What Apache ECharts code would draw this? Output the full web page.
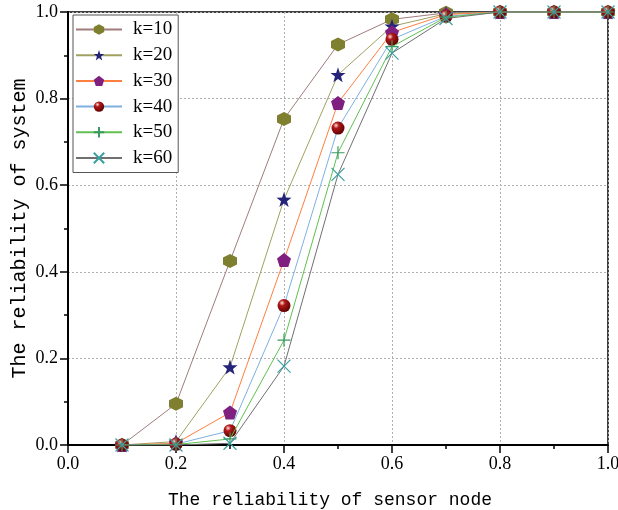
<!DOCTYPE html>
<html><head><meta charset="utf-8">
<script src="https://cdn.jsdelivr.net/npm/echarts@6/dist/echarts.min.js"></script>
<style>html,body{margin:0;padding:0;background:#fff}#c{width:618px;height:510px}</style>
</head><body><div id="c"></div>
<script>
const xs = [0.1,0.2,0.3,0.4,0.5,0.6,0.7,0.8,0.9,1.0];
const k10 = [0.0,0.095,0.425,0.753,0.925,0.983,0.998,1,1,1];
const k20 = [0.0,0.008,0.180,0.567,0.855,0.967,0.996,1,1,1];
const k30 = [0.0,0.004,0.075,0.427,0.790,0.953,0.994,1,1,1];
const k40 = [0.0,0.002,0.033,0.322,0.732,0.937,0.990,1,1,1];
const k50 = [0.0,0.001,0.014,0.242,0.675,0.920,0.988,1,1,1];
const k60 = [0.0,0.000,0.004,0.182,0.625,0.905,0.985,1,1,1];
const names = ['k=10','k=20','k=30','k=40','k=50','k=60'];
const xTicks = ['0.0','0.2','0.4','0.6','0.8','1.0'];

const hex = 'path://M0,-10L8.66,-5L8.66,5L0,10L-8.66,5L-8.66,-5Z';
const star = 'path://M0,-10L2.35,-3.24L9.51,-3.09L3.8,1.24L5.88,8.09L0,4L-5.88,8.09L-3.8,1.24L-9.51,-3.09L-2.35,-3.24Z';
const pent = 'path://M0,-10L9.51,-3.09L5.88,8.09L-5.88,8.09L-9.51,-3.09Z';
const plus = 'path://M0,-10L0,10M-10,0L10,0';
const cross = 'path://M-10,-10L10,10M10,-10L-10,10';

const cfg = [
  {d:k10, line:'#a07c7c', sym:hex, size:14, item:{color:'#7f7f30'}},
  {d:k20, line:'#a0a060', sym:star, size:15, item:{color:'#24247a'}},
  {d:k30, line:'#ff7f40', sym:pent, size:14, item:{color:'#7f2080'}},
  {d:k40, line:'#7fb0e0', sym:'circle', size:13, item:{color:{type:'radial',x:0.35,y:0.3,r:0.75,colorStops:[{offset:0,color:'#ffdede'},{offset:0.3,color:'#b01818'},{offset:1,color:'#5a0000'}]}}},
  {d:k50, line:'#60c050', sym:plus, size:13, item:{color:'rgba(0,0,0,0)', borderColor:'#3a9a60', borderWidth:1.2}},
  {d:k60, line:'#707070', sym:cross, size:13, item:{color:'rgba(0,0,0,0)', borderColor:'#3aa0a0', borderWidth:1.2}}
];

const series = cfg.map((c,i)=>({
  name:names[i], type:'line',
  data: xs.map((x,j)=>[x,c.d[j]]),
  symbol:c.sym, symbolSize:c.size, showAllSymbol:true,
  lineStyle:{color:c.line, width:1},
  itemStyle:c.item,
  emphasis:{disabled:true},
  z: 2+i
}));

const chart = echarts.init(document.getElementById('c'));
chart.setOption({
  animation:false,
  backgroundColor:'#fff',
  grid:{left:68, right:10, top:12, bottom:65, outerBoundsMode:'none', containLabel:false,
        show:true, borderColor:'#000', borderWidth:1.5},
  legend:{
    left:73, top:15, orient:'vertical', itemWidth:46, itemHeight:13, itemGap:6.7,
    padding:[5,6,5,2],
    borderColor:'#555', borderWidth:1, backgroundColor:'#fff',
    textStyle:{fontFamily:'Liberation Serif', fontSize:19, lineHeight:18, color:'#000', padding:[0,0,0,6]},
    data:names
  },
  xAxis:{
    type:'value', min:0, max:1, interval:0.2,
    axisLine:{onZero:false, lineStyle:{color:'#000', width:2}},
    axisTick:{length:8, lineStyle:{color:'#000', width:1.5}},
    minorTick:{show:true, splitNumber:2, length:4, lineStyle:{color:'#000', width:1.5}},
    splitLine:{show:true, lineStyle:{color:'#b0b0b0', type:[2,2], width:1}},
    axisLabel:{fontFamily:'Liberation Serif', fontSize:18, color:'#000', margin:10,
      formatter:(v)=>xTicks[Math.round(v/0.2)]},
    name:'The reliability of sensor node', nameLocation:'middle', nameGap:46,
    nameTextStyle:{fontFamily:'Liberation Mono', fontSize:18, color:'#000', padding:[0,16,0,0]}
  },
  yAxis:{
    type:'value', min:0, max:1, interval:0.2,
    axisLine:{onZero:false, lineStyle:{color:'#000', width:2}},
    axisTick:{length:8, lineStyle:{color:'#000', width:1.5}},
    minorTick:{show:true, splitNumber:2, length:4, lineStyle:{color:'#000', width:1.5}},
    splitLine:{show:true, lineStyle:{color:'#b0b0b0', type:[2,2], width:1}},
    axisLabel:{fontFamily:'Liberation Serif', fontSize:18, color:'#000', margin:10,
      formatter:(v)=>v.toFixed(1)},
    name:'The reliability of system', nameLocation:'middle', nameGap:38, nameMoveOverlap:false,
    nameTextStyle:{fontFamily:'Liberation Mono', fontSize:20, color:'#000'}
  },
  series:series
});
</script></body></html>
